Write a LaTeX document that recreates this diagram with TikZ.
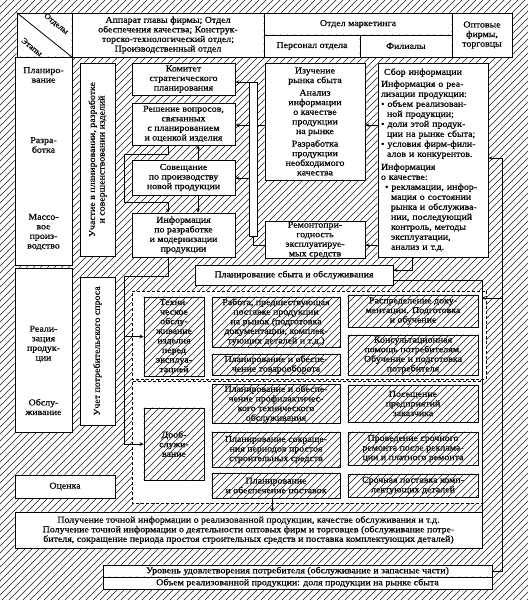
\documentclass[tikz,border=0pt]{standalone}
\usepackage{fontspec}
\setmainfont{Liberation Serif}[FakeStretch=1.1,FakeBold=0.5]

\begin{document}
\begin{tikzpicture}[>=stealth, x=1pt, y=-1pt,
  box/.style={draw, fill=white, line width=1pt, align=center, inner sep=0.5pt,
    font=\fontsize{9}{9.6}\selectfont},
  lbl/.style={align=center, inner sep=0pt, font=\fontsize{9}{9.6}\selectfont},
  conn/.style={line width=0.75pt},
  hatch/.style={black!90, line width=0.6pt},
  dotbox/.style={densely dashed, line width=0.8pt, fill=white}]

  \path[use as bounding box] (0,0) rectangle (528,600);

  % header
  \node[box, minimum width=55, minimum height=44] (corner) at (44.5,35) {};
  \draw[line width=0.8pt] (corner.north west) -- (corner.south east);
  \node[lbl, rotate=-38.7, font=\fontsize{8}{9}\selectfont] (otd) at (56,24) {Отделы};
  \node[lbl, rotate=-38.7, font=\fontsize{8}{9}\selectfont] (etap) at (32,47) {Этапы};
  \node[box, minimum width=192, minimum height=44] (hq) at (168,35)
    {Аппарат главы фирмы; Отдел\\обеспечения качества; Конструк-\\торско-технологический отдел;\\Производственный отдел};
  \node[box, minimum width=188, minimum height=22] (mkt) at (358,24) {Отдел маркетинга};
  \node[box, minimum width=96, minimum height=22] (pers) at (312,46) {Персонал отдела};
  \node[box, minimum width=92, minimum height=22] (fil) at (406,46) {Филиалы};
  \node[box, minimum width=60, minimum height=44] (opt) at (482,35) {Оптовые\\фирмы,\\торговцы};

  % stages
  \node[box, minimum width=57, minimum height=208] (st1) at (43.5,161) {};
  \node[lbl] (plan) at (43.5,75) {Планиро-\\вание};
  \node[lbl] (razr) at (43.5,145) {Разра-\\ботка};
  \node[lbl] (mass) at (43.5,232) {Массо-\\вое\\произ-\\водство};
  \node[box, minimum width=57, minimum height=164] (st2) at (43.5,350) {};
  \node[lbl] (real) at (43.5,344) {Реали-\\зация\\продук-\\ции};
  \node[lbl] (obsl) at (43.5,407) {Обслу-\\живание};
  \node[box, minimum width=100, minimum height=23] (ocenka) at (65,486.5) {Оценка};
  \node[box, minimum width=35, minimum height=193] (uch) at (97.5,159.5) {};
  \node[lbl, rotate=90] at (uch) {Участие в планировании, разработке\\и совершенствовании изделий};
  \node[box, minimum width=35, minimum height=148] (uchet) at (97.5,351) {};
  \node[lbl, rotate=90] at (uchet) {Учет потребительского спроса};

  % middle column
  \node[box, minimum width=103, minimum height=32] (komitet) at (183.5,79)
    {Комитет\\стратегического\\планирования};
  \node[box, minimum width=103, minimum height=42] (resh) at (183.5,124)
    {Решение вопросов,\\связанных\\с планированием\\и оценкой изделия};
  \node[box, minimum width=103, minimum height=35] (sov) at (183.5,177.5)
    {Совещание\\по производству\\новой продукции};
  \node[box, minimum width=103, minimum height=44] (info) at (183.5,235)
    {Информация\\по разработке\\и модернизации\\продукции};

  % marketing column
  \node[box, minimum width=100, minimum height=117] (izuch) at (315,121.5)
    {Изучение\\рынка сбыта\\[3pt]Анализ\\информации\\о качестве\\продукции\\на рынке\\[3pt]Разработка\\продукции\\необходимого\\качества};
  \node[box, minimum width=100, minimum height=34] (remont) at (315,240)
    {Ремонтопри-\\годность\\эксплуатируе-\\мых средств};
  \node[box, minimum width=110, minimum height=194, align=left, text width=104,
    font=\fontsize{9}{10}\selectfont] (sbor) at (433,160)
    {\hspace*{3pt}Сбор информации\\[2pt]
     Информация о реа-\\
     лизации продукции:\\
     \textbullet\ объем реализован-\\
     \hspace*{6pt}ной продукции;\\
     \textbullet\ доли этой продук-\\
     \hspace*{6pt}ции на рынке сбыта;\\
     \textbullet\ условия фирм-фили-\\
     \hspace*{6pt}алов и конкурентов.\\[3pt]
     Информация\\
     о качестве:\\
     \hspace*{4pt}\textbullet\ рекламации, инфор-\\
     \hspace*{10pt}мация о состоянии\\
     \hspace*{10pt}рынка и обслужива-\\
     \hspace*{10pt}нии, последующий\\
     \hspace*{10pt}контроль, методы\\
     \hspace*{10pt}эксплуатации,\\
     \hspace*{10pt}анализ и т.д.};

  % sales and service
  \coordinate (dotAne) at (486,291);
  \coordinate (dotAsw) at (132,379);
  \coordinate (dotBne) at (482,381);
  \coordinate (dotBsw) at (132,503);
  \filldraw[dotbox] (dotAne) rectangle (dotAsw);
  \filldraw[dotbox] (dotBne) rectangle (dotBsw);
  \node[box, minimum width=198, minimum height=20] (plansb) at (294,275)
    {Планирование сбыта и обслуживания};
  \node[box, minimum width=60, minimum height=79] (tech) at (174,336.5)
    {Техни-\\ческое\\обслу-\\живание\\изделия\\перед\\эксплуа-\\тацией};
  \node[box, minimum width=128, minimum height=50] (rabota) at (276,322)
    {Работа, предшествующая\\поставке продукции\\на рынок (подготовка\\документации, комплек-\\тующих деталей и т.д.)};
  \node[box, minimum width=128, minimum height=21] (tovar) at (276,364.5)
    {Планирование и обеспе-\\чение товарооборота};
  \node[box, minimum width=130, minimum height=32] (raspr) at (413,311)
    {Распределение доку-\\ментации. Подготовка\\и обучение};
  \node[box, minimum width=130, minimum height=40] (konsult) at (413,355)
    {Консультационная\\помощь потребителям.\\Обучение и подготовка\\потребителя};
  \node[box, minimum width=60, minimum height=72] (doobs) at (174,444)
    {Дооб-\\служи-\\вание};
  \node[box, minimum width=128, minimum height=38] (profil) at (276,404)
    {Планирование и обеспе-\\чение профилактичес-\\кого технического\\обслуживания};
  \node[box, minimum width=128, minimum height=35] (sokr) at (276,449.5)
    {Планирование сокраще-\\ния периодов простоя\\строительных средств};
  \node[box, minimum width=128, minimum height=25] (postav) at (276,485.5)
    {Планирование\\и обеспечение поставок};
  \node[box, minimum width=130, minimum height=37] (posesch) at (413,403.5)
    {Посещение\\предприятий\\заказчика};
  \node[box, minimum width=130, minimum height=33] (remont2) at (413,448.5)
    {Проведение срочного\\ремонта после реклама-\\ции и платного ремонта};
  \node[box, minimum width=130, minimum height=23] (srochn) at (413,485.5)
    {Срочная поставка комп-\\лектующих деталей};

  % results
  \node[box, minimum width=467, minimum height=36] (poluch) at (248.5,530)
    {Получение точной информации о реализованной продукции, качестве обслуживания и т.д.\\
     Получение точной информации о деятельности оптовых фирм и торговцев (обслуживание потре-\\
     бителя, сокращение периода простоя строительных средств и поставка комплектующих деталей)};
  \node[box, minimum width=389, minimum height=12] (uroven) at (297.5,571)
    {Уровень удовлетворения потребителя (обслуживание и запасные части)};
  \node[box, minimum width=389, minimum height=12] (obem) at (297.5,583)
    {Объем реализованной продукции: доля продукции на рынке сбыта};

  % hatching around the boxes (boxes cut out of the clip)
  \begin{scope}
    \clip (0,0) rectangle (528,600)
      (dotAne) rectangle (dotAsw) (dotBne) rectangle (dotBsw)
      \foreach \nm in {corner,hq,mkt,pers,fil,opt,st1,st2,ocenka,uch,uchet,
        komitet,resh,sov,info,izuch,remont,sbor,plansb,tech,rabota,tovar,
        raspr,konsult,doobs,profil,sokr,postav,posesch,remont2,srochn,
        poluch,uroven,obem} {(\nm.north east) rectangle (\nm.south west)};
    \foreach \k in {0,...,162}
      \draw[hatch] ({7*\k-600},600) -- ({7*\k},0);
  \end{scope}

  % connectors
  \draw[conn,->] ([xshift=14.5pt]sov.north) -- ([xshift=14.5pt]resh.south);
  \draw[conn,->] ([xshift=14.5pt]sov.south) -- ([xshift=14.5pt]info.north);
  \draw[conn,->] ([xshift=-15.5pt]resh.south) |- (124,154) |- (168,202) -- ([xshift=-15.5pt]info.north);
  \coordinate (pipeT) at (249,82);
  \coordinate (pipeB) at (257,236);
  \draw[conn, fill=white] (pipeT) rectangle (pipeB);
  \draw[conn] (izuch.west |- 0,125) -- (pipeB |- 0,125);
  \draw[conn,->] (pipeT |- 0,125) -- (resh.east |- 0,125);
  \draw[conn,->] (pipeT) -- (komitet.east |- pipeT);
  \draw[conn,->] (pipeT |- 0,178) -- (sov.east |- 0,178);
  \draw[conn] (remont.west |- 0,245) -| (253,236);
  \draw[conn,->] (sbor.west |- 0,125) -- (izuch.east |- 0,125);
  \draw[conn,->] (sbor.west |- 0,245) -- (remont.east |- 0,245);
  \draw[conn,->] ([xshift=-21pt]sbor.south) |- ([yshift=5pt]plansb.east);
  \draw[conn,->] ([xshift=-15.5pt]info.south) |- (124,276) |- (doobs.west);
  \draw[conn,->] (124,336.5) -- (tech.west);
  \draw[conn,->] ([xshift=-4pt]postav.south) -- ([xshift=-4pt]postav.south |- poluch.north);
  \draw[conn] ([yshift=-5pt]plansb.east) -| (poluch.north east);
  \draw[conn,->] (uroven.east) -- ++(10,0) |- ([yshift=2pt]sbor.east);
  \draw[conn,->] (502,298) -- (482,298);
\end{tikzpicture}
\end{document}
